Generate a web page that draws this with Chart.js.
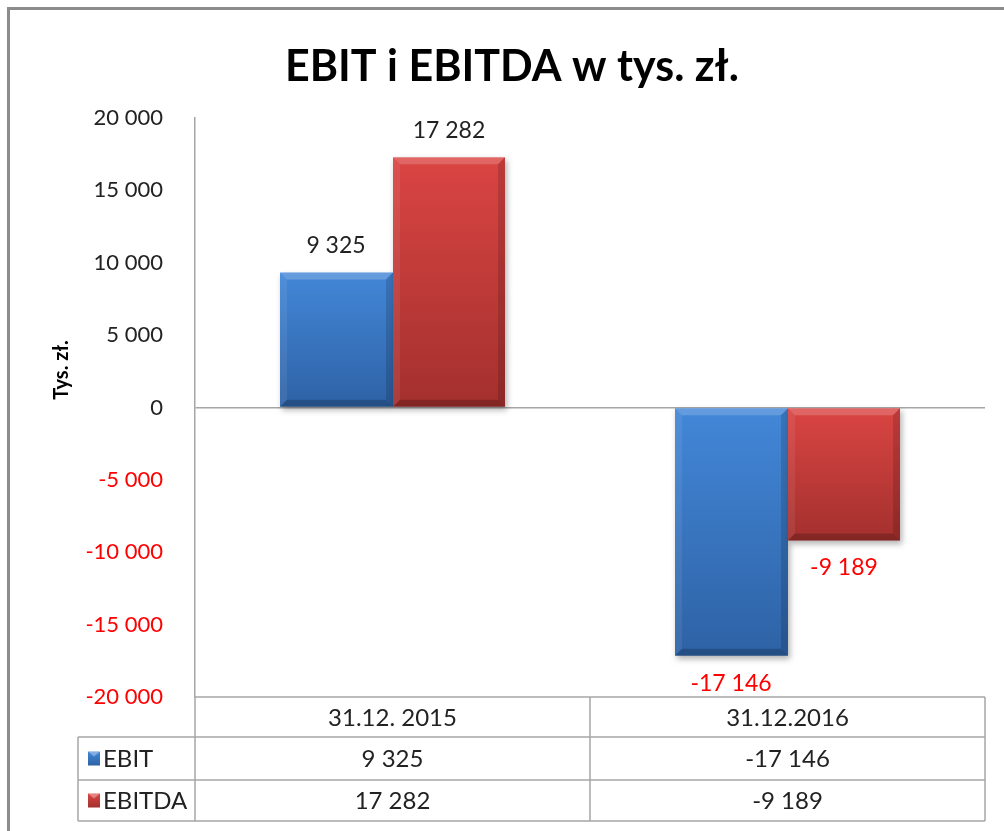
<!DOCTYPE html>
<html>
<head>
<meta charset="utf-8">
<script src="https://cdn.jsdelivr.net/npm/chart.js@4"></script>
<style>
  html, body { margin: 0; padding: 0; background: #fff; }
  canvas { display: block; }
</style>
</head>
<body>
<canvas id="chart" width="1004" height="831"></canvas>
<script>
const categories = ['31.12. 2015', '31.12.2016'];
const ebit = [9325, -17146];
const ebitda = [17282, -9189];
const seriesNames = ['EBIT', 'EBITDA'];
const yMin = -20000;
const yMax = 20000;
const yStep = 5000;

const FONT = 'Lato, "Open Sans", sans-serif';
const colors = [
  { top: '#4387d8', bottom: '#2e62a5' },
  { top: '#da4543', bottom: '#a3302e' }
];

const fmt = (n) => (n < 0 ? '-' : '') + Math.abs(n).toString().replace(/\B(?=(\d{3})+(?!\d))/g, ' ');

function barGradient(c, top, bottom, col) {
  const g = c.createLinearGradient(0, top, 0, bottom);
  g.addColorStop(0, col.top);
  g.addColorStop(1, col.bottom);
  return g;
}

function drawBevelBar(c, x0, y0, x1, y1, col) {
  const b = 7;
  c.save();
  c.shadowColor = 'rgba(0,0,0,0.3)';
  c.shadowBlur = 6;
  c.shadowOffsetX = 2;
  c.shadowOffsetY = 3;
  c.fillStyle = barGradient(c, y0, y1, col);
  c.fillRect(x0, y0, x1 - x0, y1 - y0);
  c.restore();
  // bevel edges
  c.save();
  c.fillStyle = 'rgba(255,255,255,0.18)';
  c.beginPath();
  c.moveTo(x0, y0); c.lineTo(x1, y0); c.lineTo(x1 - b, y0 + b); c.lineTo(x0 + b, y0 + b); c.closePath();
  c.fill();
  c.fillStyle = 'rgba(255,255,255,0.07)';
  c.beginPath();
  c.moveTo(x0, y0); c.lineTo(x0 + b, y0 + b); c.lineTo(x0 + b, y1 - b); c.lineTo(x0, y1); c.closePath();
  c.fill();
  c.fillStyle = 'rgba(0,0,0,0.14)';
  c.beginPath();
  c.moveTo(x1, y0); c.lineTo(x1, y1); c.lineTo(x1 - b, y1 - b); c.lineTo(x1 - b, y0 + b); c.closePath();
  c.fill();
  c.fillStyle = 'rgba(0,0,0,0.2)';
  c.beginPath();
  c.moveTo(x0, y1); c.lineTo(x1, y1); c.lineTo(x1 - b, y1 - b); c.lineTo(x0 + b, y1 - b); c.closePath();
  c.fill();
  c.restore();
}

function drawBevelKey(c, x, y, w, h, col) {
  c.save();
  c.fillStyle = barGradient(c, y, y + h, col);
  c.fillRect(x, y, w, h);
  c.fillStyle = 'rgba(255,255,255,0.35)';
  c.beginPath();
  c.moveTo(x, y); c.lineTo(x + w, y); c.lineTo(x + w / 2, y + 5); c.closePath();
  c.fill();
  c.restore();
}

const decorPlugin = {
  id: 'decor',
  beforeDraw(chart) {
    const c = chart.ctx;
    c.save();
    c.fillStyle = '#fff';
    c.fillRect(0, 0, chart.width, chart.height);
    c.strokeStyle = '#8c8c8c';
    c.lineWidth = 3;
    c.strokeRect(8.5, 8.5, chart.width + 20, chart.height + 20);
    c.restore();
  },
  afterDatasetsDraw(chart) {
    const c = chart.ctx;
    chart.data.datasets.forEach((ds, di) => {
      const meta = chart.getDatasetMeta(di);
      meta.data.forEach((el, i) => {
        const p = el.getProps(['x', 'y', 'base', 'width'], true);
        const x0 = Math.round(p.x - p.width / 2), x1 = Math.round(p.x + p.width / 2);
        const top = Math.min(p.y, p.base), bot = Math.max(p.y, p.base);
        drawBevelBar(c, x0, top, x1, bot, colors[di]);
        // value label
        const v = ds.data[i];
        c.save();
        c.font = '23px ' + FONT;
        c.textAlign = 'center';
        c.fillStyle = v < 0 ? '#ff0000' : '#222';
        if (v >= 0) {
          c.textBaseline = 'bottom';
          c.fillText(fmt(v), p.x, p.y - 15);
        } else {
          c.textBaseline = 'top';
          c.fillText(fmt(v), p.x, p.y + 16);
        }
        c.restore();
      });
    });
  },
  afterDraw(chart) {
    const c = chart.ctx;
    const area = chart.chartArea;
    const x = chart.scales.x;
    // title
    c.save();
    c.font = 'bold 43px ' + FONT;
    c.fillStyle = '#000';
    c.textAlign = 'center';
    c.textBaseline = 'alphabetic';
    c.fillText('EBIT i EBITDA w tys. zł.', 512, 81);
    // axis title
    c.translate(62, 370);
    c.rotate(-Math.PI / 2);
    c.font = 'bold 20px ' + FONT;
    c.textBaseline = 'middle';
    c.fillText('Tys. zł.', 0, 0);
    c.restore();

    // data table
    const top = area.bottom;
    const rowH = [40, 43, 41];
    const r1 = top + rowH[0], r2 = r1 + rowH[1], r3 = r2 + rowH[2];
    const leftCol = 78;
    const cols = categories.map((_, i) => {
      const px = x.getPixelForValue(i);
      const half = (area.right - area.left) / categories.length / 2;
      return [px - half, px + half];
    });
    c.save();
    c.strokeStyle = '#a6a6a6';
    c.lineWidth = 1.5;
    c.beginPath();
    c.moveTo(area.left, top); c.lineTo(area.right, top);
    [r1, r2, r3].forEach(y => { c.moveTo(leftCol, y); c.lineTo(area.right, y); });
    c.moveTo(leftCol, r1); c.lineTo(leftCol, r3);
    c.moveTo(area.left, top); c.lineTo(area.left, r3);
    cols.forEach(([, r]) => { c.moveTo(r, top); c.lineTo(r, r3); });
    c.stroke();

    c.fillStyle = '#222';
    c.font = '24px ' + FONT;
    c.textAlign = 'center';
    c.textBaseline = 'middle';
    categories.forEach((cat, i) => {
      const cx = x.getPixelForValue(i);
      c.fillText(cat, cx, (top + r1) / 2 + 1);
      c.fillText(fmt(ebit[i]), cx, (r1 + r2) / 2 + 1);
      c.fillText(fmt(ebitda[i]), cx, (r2 + r3) / 2 + 1);
    });
    // legend keys
    [[r1, r2], [r2, r3]].forEach(([a, b], si) => {
      const cy = (a + b) / 2;
      drawBevelKey(c, 88, cy - 7, 12, 14, colors[si]);
      c.fillStyle = '#222';
      c.textAlign = 'left';
      c.fillText(seriesNames[si], 103, cy + 1);
    });
    c.restore();
  }
};

new Chart(document.getElementById('chart'), {
  type: 'bar',
  data: {
    labels: categories,
    datasets: [
      { label: seriesNames[0], data: ebit, backgroundColor: 'rgba(0,0,0,0)' },
      { label: seriesNames[1], data: ebitda, backgroundColor: 'rgba(0,0,0,0)' }
    ]
  },
  options: {
    responsive: false,
    animation: false,
    events: [],
    categoryPercentage: 0.572,
    barPercentage: 1,
    layout: { padding: { top: 118, right: 19, bottom: 134, left: 0 } },
    plugins: {
      legend: { display: false },
      title: { display: false },
      tooltip: { enabled: false }
    },
    scales: {
      x: {
        display: false,
        grid: { display: false }
      },
      y: {
        min: yMin,
        max: yMax,
        afterFit(scale) { scale.width = 195; },
        ticks: {
          stepSize: yStep,
          padding: 32,
          font: { family: FONT, size: 22 },
          color: (ctx) => ctx.tick && ctx.tick.value < 0 ? '#ff0000' : '#222',
          callback: (v) => fmt(v)
        },
        border: { display: true, color: '#a6a6a6', width: 1.5 },
        grid: {
          drawTicks: false,
          color: (ctx) => ctx.tick && ctx.tick.value === 0 ? '#a6a6a6' : 'rgba(0,0,0,0)',
          lineWidth: 1.5
        }
      }
    }
  },
  plugins: [decorPlugin]
});
</script>
</body>
</html>
